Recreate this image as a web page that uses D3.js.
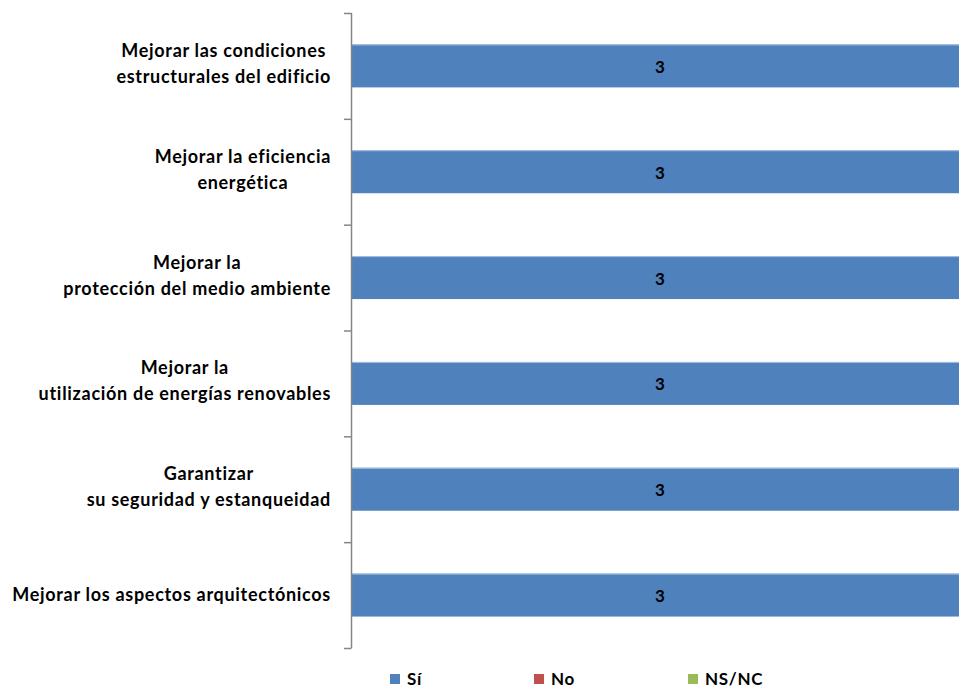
<!DOCTYPE html>
<html><head><meta charset="utf-8">
<script src="https://cdn.jsdelivr.net/npm/d3@7"></script>
<style>body{margin:0;background:#fff;}svg{display:block;font-family:Lato,"Open Sans",sans-serif;}</style>
</head><body>
<svg id="c" width="959" height="689"></svg>
<script>
const categories = [
  ["Mejorar las condiciones", "estructurales del edificio"],
  ["Mejorar la eficiencia", "energética"],
  ["Mejorar la", "protección del medio ambiente"],
  ["Mejorar la", "utilización de energías renovables"],
  ["Garantizar", "su seguridad y estanqueidad"],
  ["Mejorar los aspectos arquitectónicos"]
];
const seriesNames = ["Sí", "No", "NS/NC"];
const si = [3, 3, 3, 3, 3, 3];
const no = [0, 0, 0, 0, 0, 0];
const nsnc = [0, 0, 0, 0, 0, 0];
const colors = ["#4F81BD", "#C0504D", "#9BBB59"];

const svg = d3.select("#c");
const axisX = 351, plotTop = 13, plotBottom = 648;
const ids = categories.map((c, i) => i);
const y = d3.scaleBand().domain(ids).range([plotTop, plotBottom]).paddingInner(0.594).paddingOuter(0.297);
const x = d3.scaleLinear().domain([0, 3]).range([axisX, 969]);

const rows = ids.map(i => ({i, vals: [si[i], no[i], nsnc[i]]}));
const stack = d3.stack().keys([0,1,2]).value((d, k) => d.vals[k]);
const layers = stack(rows);

layers.forEach((layer, k) => {
  svg.append("g").selectAll("rect").data(layer).join("rect")
    .attr("x", d => x(d[0]))
    .attr("y", d => y(d.data.i))
    .attr("width", d => x(d[1]) - x(d[0]))
    .attr("height", y.bandwidth())
    .attr("fill", colors[k]);
  svg.append("g").selectAll("line").data(layer.filter(d => d[1] > d[0])).join("line")
    .attr("x1", d => x(d[0])).attr("x2", d => x(d[1]))
    .attr("y1", d => y(d.data.i) + 0.5).attr("y2", d => y(d.data.i) + 0.5)
    .attr("stroke", "#a9c0dd").attr("stroke-width", 1);
});

// data labels
layers[0].forEach(d => {
  svg.append("text").attr("x", (x(d[0]) + x(d[1])) / 2).attr("y", y(d.data.i) + y.bandwidth()/2 + 7)
    .attr("text-anchor", "middle").attr("font-weight", "bold").attr("font-size", 17).attr("fill", "#000")
    .text(d[1] - d[0]);
});

// axis
const tickPos = ids.map(i => y(i) - y.step()*y.paddingOuter()).concat([plotBottom]);
svg.append("line").attr("x1", axisX+0.5).attr("x2", axisX+0.5).attr("y1", plotTop).attr("y2", plotBottom)
  .attr("stroke", "#868686").attr("stroke-width", 1.5);
svg.append("g").selectAll("line").data(tickPos).join("line")
  .attr("x1", axisX - 7).attr("x2", axisX + 0.5).attr("y1", d => d + 0.5).attr("y2", d => d + 0.5)
  .attr("stroke", "#868686").attr("stroke-width", 1.5);

// category labels
const labelRight = 331;
categories.forEach((lines, i) => {
  const g = svg.append("g");
  const texts = lines.map((l, j) => g.append("text").attr("font-weight", "bold").attr("font-size", 18)
    .attr("letter-spacing", 0.7)
    .attr("fill", "#000").attr("text-anchor", "middle").text(l));
  const maxW = d3.max(texts, t => t.node().getComputedTextLength());
  const cx = labelRight - maxW / 2;
  const cy = y(i) + y.bandwidth() / 2;
  const lh = 26;
  const off = lines.length > 1 ? 4 : 6;
  texts.forEach((t, j) => {
    t.attr("x", cx).attr("y", cy + (j - (lines.length - 1) / 2) * lh + off);
  });
});

// legend
const legX = [390, 534, 688];
seriesNames.forEach((n, k) => {
  svg.append("rect").attr("x", legX[k]).attr("y", 674).attr("width", 10).attr("height", 10).attr("fill", colors[k]);
  svg.append("text").attr("x", legX[k] + 17).attr("y", 685).attr("font-weight", "bold").attr("font-size", 17)
    .attr("letter-spacing", 0.7).attr("fill", "#000").text(n);
});
</script>
</body></html>
